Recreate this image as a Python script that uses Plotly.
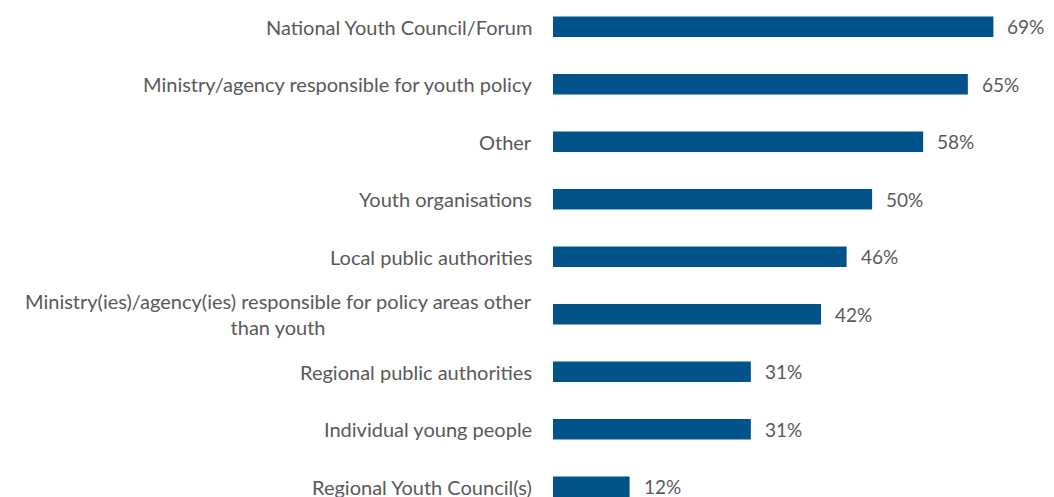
import plotly.graph_objects as go

categories = [
    "National Youth Council/Forum",
    "Ministry/agency responsible for youth policy",
    "Other",
    "Youth organisations",
    "Local public authorities",
    "Ministry(ies)/agency(ies) responsible for policy areas other<br>than youth",
    "Regional public authorities",
    "Individual young people",
    "Regional Youth Council(s)",
]
values = [69, 65, 58, 50, 46, 42, 31, 31, 12]
value_labels = ["69%", "65%", "58%", "50%", "46%", "42%", "31%", "31%", "12%"]

BAR = "#02538A"
TXT = "#595959"
FONT = "Lato"

fig = go.Figure()
fig.add_trace(go.Bar(
    x=values, y=categories, orientation="h",
    marker=dict(color=BAR, line=dict(width=0)),
    width=0.357, hoverinfo="skip",
))

ann = []
for c, v, t in zip(categories, values, value_labels):
    ann.append(dict(x=v, y=c, xref="x", yref="y", text=t, showarrow=False,
                    xanchor="left", xshift=12, font=dict(family=FONT, size=19, color=TXT)))
    ann.append(dict(x=0, y=c, xref="paper", yref="y", text=c, showarrow=False,
                    xanchor="right", xshift=-19, align="center",
                    font=dict(family=FONT, size=20, color=TXT)))

fig.update_layout(
    width=1046, height=489,
    margin=dict(l=545, r=0, t=0, b=0),
    paper_bgcolor="white", plot_bgcolor="white",
    showlegend=False,
    annotations=ann,
    xaxis=dict(range=[0, 78.5], visible=False),
    yaxis=dict(range=[8.179, -0.325], showticklabels=False, showgrid=False,
               zeroline=False, ticks=""),
)

fig.write_html("out.html")
